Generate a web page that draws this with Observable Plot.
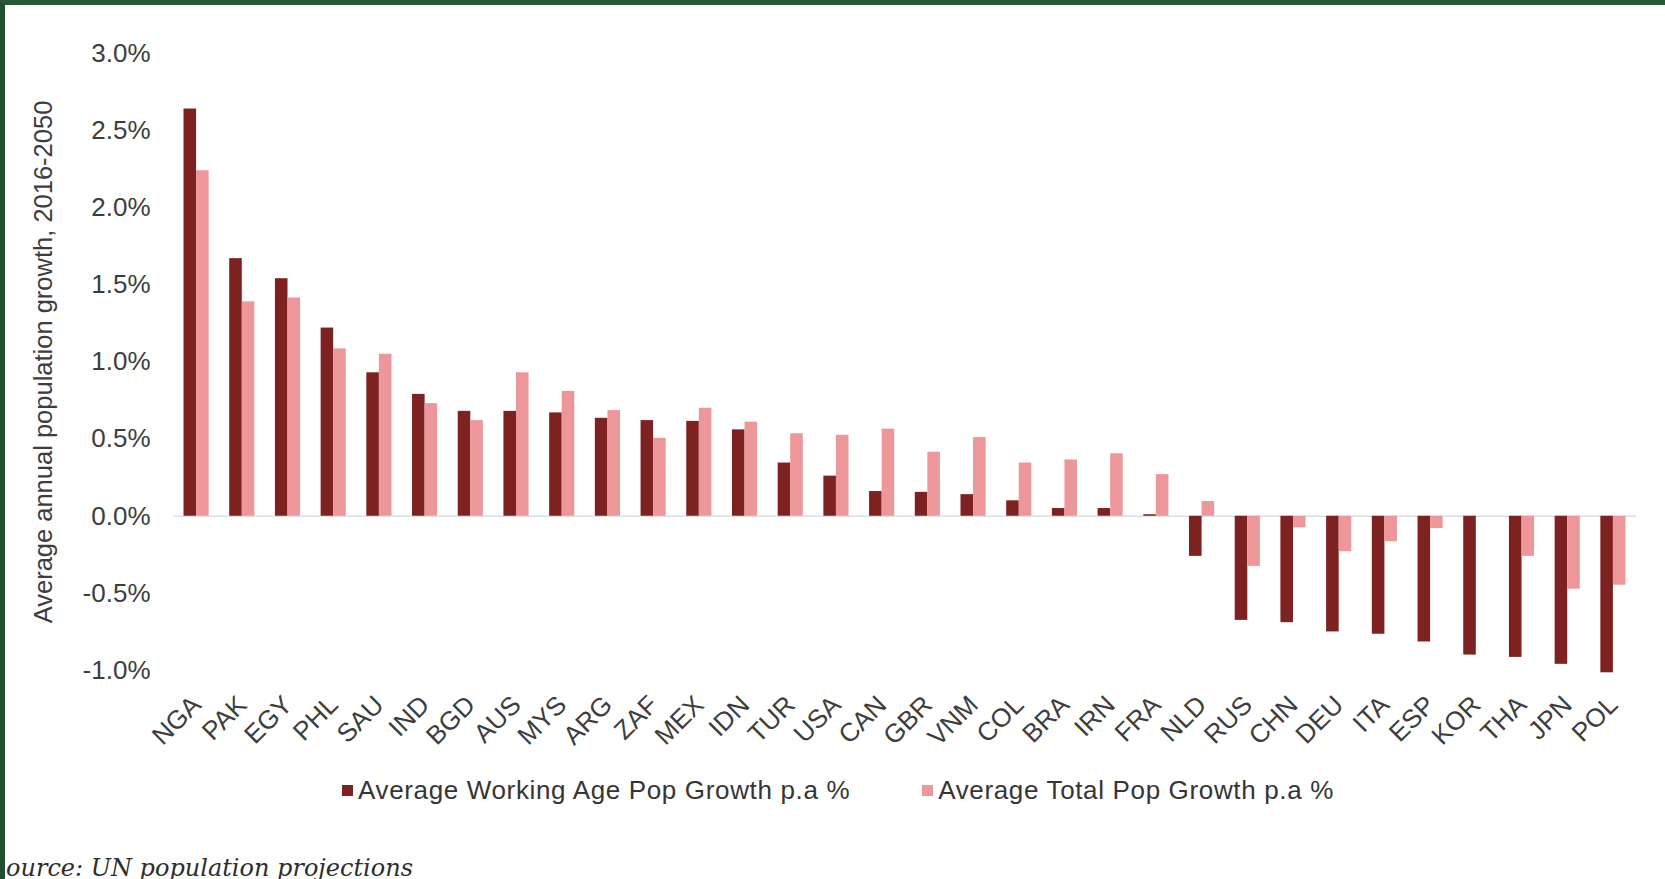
<!DOCTYPE html>
<html>
<head>
<meta charset="utf-8">
<script src="https://cdn.jsdelivr.net/npm/d3@7"></script>
<script src="https://cdn.jsdelivr.net/npm/@observablehq/plot@0.6"></script>
<style>
  html, body { margin: 0; padding: 0; background: #fff; }
  body { width: 1665px; height: 879px; position: relative; overflow: hidden; font-family: "Liberation Sans", Arial, sans-serif; }
  #frame { position: absolute; left: 0; top: 0; width: 1665px; height: 879px; box-sizing: border-box;
           border-top: 5px solid #275737; border-left: 5px solid #22502f; pointer-events: none; z-index: 10; }
  #chart { position: absolute; left: 0; top: 0; }
  #legend { position: absolute; left: 342px; top: 775px; display: flex; align-items: center;
            font-size: 26px; letter-spacing: 0.65px; color: #353535; white-space: nowrap; }
  #legend .item { display: flex; align-items: center; }
  #legend .sw { width: 11px; height: 11px; margin-right: 5px; }
  #source { position: absolute; left: 5px; top: 856px; overflow: hidden; width: 600px; line-height: 24px;
            font-family: "DejaVu Serif", "Liberation Serif", serif; font-style: italic; font-size: 24px; color: #2e2e2e; white-space: nowrap; }
</style>
</head>
<body>
<div id="chart"></div>
<div id="legend"></div>
<div id="source"><span id="srcText"></span></div>
<div id="frame"></div>
<script>
// ---- data ----
const countries = ["NGA","PAK","EGY","PHL","SAU","IND","BGD","AUS","MYS","ARG","ZAF","MEX","IDN","TUR","USA","CAN","GBR","VNM","COL","BRA","IRN","FRA","NLD","RUS","CHN","DEU","ITA","ESP","KOR","THA","JPN","POL"];
const workingAge = [2.64, 1.67, 1.54, 1.22, 0.93, 0.79, 0.68, 0.68, 0.67, 0.635, 0.62, 0.615, 0.56, 0.345, 0.26, 0.16, 0.155, 0.14, 0.10, 0.05, 0.05, 0.01, -0.26, -0.675, -0.69, -0.75, -0.765, -0.815, -0.90, -0.915, -0.96, -1.015];
const totalPop = [2.24, 1.39, 1.415, 1.085, 1.05, 0.73, 0.62, 0.93, 0.81, 0.685, 0.505, 0.70, 0.61, 0.535, 0.525, 0.565, 0.415, 0.51, 0.345, 0.365, 0.405, 0.27, 0.095, -0.325, -0.075, -0.23, -0.165, -0.08, 0, -0.26, -0.473, -0.447];
const seriesNames = ["Average Working Age Pop Growth p.a %", "Average Total Pop Growth p.a %"];
const seriesColors = ["#7d2220", "#ee979b"];
const yTicks = [-1.0, -0.5, 0.0, 0.5, 1.0, 1.5, 2.0, 2.5, 3.0];
const yLabel = "Average annual population growth, 2016-2050";
const sourceText = "Source: UN population projections";

// ---- layout ----
const W = 1665, H = 760;
const mL = 173, mR = 29, mT = 53, mB = H - 670;
const padIn = 0.45, padOut = 0.23;
const step = (W - mL - mR) / (countries.length - padIn + 2 * padOut);
const bw = step * (1 - padIn);

const rows = countries.map((c, i) => ({country: c, working: workingAge[i], total: totalPop[i]}));

const plot = Plot.plot({
  width: W, height: H,
  marginLeft: mL, marginRight: mR, marginTop: mT, marginBottom: mB,
  style: {fontFamily: "'Liberation Sans', Arial, sans-serif", color: "#3d3d3d", background: "transparent"},
  x: {domain: countries, paddingInner: padIn, paddingOuter: padOut, round: false},
  y: {domain: [-1, 3]},
  marks: [
    Plot.ruleY([0], {stroke: "#dcdfe0", strokeWidth: 1.5}),
    Plot.barY(rows, {x: "country", y: "working", fill: seriesColors[0], insetRight: bw / 2}),
    Plot.barY(rows, {x: "country", y: "total", fill: seriesColors[1], insetLeft: bw / 2}),
    Plot.axisY({ticks: yTicks, tickFormat: d => d.toFixed(1) + "%", tickSize: 0, tickPadding: 23, fontSize: 26, label: null}),
    Plot.text([yLabel], {frameAnchor: "left", rotate: -90, dx: -130, fontSize: 25.5, textAnchor: "middle", lineAnchor: "middle", fill: "#3d3d3d"}),
    Plot.axisX({tickRotate: -45, tickSize: 0, tickPadding: 30, dx: 0, fontSize: 26, label: null})
  ]
});
document.getElementById("chart").appendChild(plot);

// legend
const legend = document.getElementById("legend");
seriesNames.forEach((name, i) => {
  const item = document.createElement("div");
  item.className = "item";
  if (i > 0) item.style.marginLeft = "72px";
  const sw = document.createElement("div");
  sw.className = "sw";
  sw.style.background = seriesColors[i];
  const t = document.createElement("span");
  t.textContent = name;
  item.appendChild(sw); item.appendChild(t);
  legend.appendChild(item);
});

// source (first letter hidden behind the left edge, as in the reference)
const src = document.getElementById("srcText");
src.textContent = sourceText;
const ctx = document.createElement("canvas").getContext("2d");
ctx.font = "italic 24px 'DejaVu Serif'";
src.style.display = "inline-block";
src.style.marginLeft = (-ctx.measureText("S").width + 1) + "px";
</script>
</body>
</html>
